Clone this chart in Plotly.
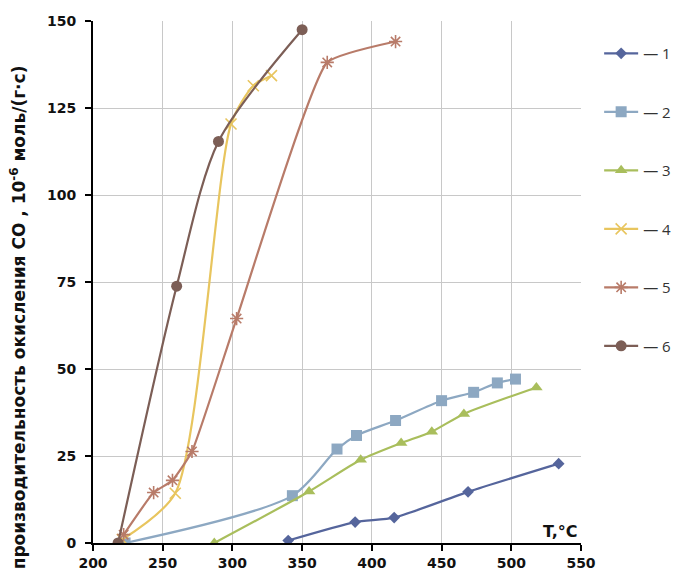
import plotly.graph_objects as go

# Data
t1 = [340, 388, 416, 469, 534]
v1 = [0.7, 6.0, 7.3, 14.7, 22.8]

t2 = [223, 343, 375, 389, 417, 450, 473, 490, 503]
v2 = [0, 13.6, 27.0, 30.9, 35.2, 40.9, 43.3, 46.0, 47.1]

t3 = [287, 355, 392, 421, 443, 466, 518]
v3 = [0, 14.8, 23.9, 28.7, 32.0, 37.1, 44.7]

t4 = [221, 259, 299, 315, 328]
v4 = [1.0, 14.3, 120.4, 131.4, 134.3]

t5 = [222, 243.5, 257, 271, 303, 368, 417]
v5 = [2.4, 14.5, 18.0, 26.3, 64.5, 138.1, 144.1]

t6 = [218, 260, 290, 350]
v6 = [0, 73.8, 115.4, 147.5]

names = ["— 1", "— 2", "— 3", "— 4", "— 5", "— 6"]
colors = ["#55659C", "#8DA8C2", "#A9BE5C", "#E8C55E", "#B87B69", "#7C5E56"]
symbols = ["diamond", "square", "triangle-up", "x-thin-open", "asterisk-open", "circle"]
sizes = [9, 11, 11, 11, 11, 11]
smooth = [0.6, 0.8, 0.6, 0.7, 0.4, 0.8]

series = [(t1, v1), (t2, v2), (t3, v3), (t4, v4), (t5, v5), (t6, v6)]

fig = go.Figure()
for i, (tx, vy) in enumerate(series):
    open_sym = symbols[i].endswith("open")
    fig.add_trace(go.Scatter(
        x=tx, y=vy, name=names[i], legendgroup=str(i),
        mode="lines+markers",
        line=dict(color=colors[i], width=2.2, shape="spline", smoothing=smooth[i]),
        marker=dict(symbol=symbols[i], size=sizes[i], color=colors[i],
                    line=dict(color=colors[i], width=1.6 if open_sym else 0)),
    ))

tickfont = dict(family="DejaVu Sans", size=14, weight="bold", color="#111")
fig.update_layout(
    width=677, height=571,
    margin=dict(l=93, r=96, t=21, b=28),
    plot_bgcolor="white", paper_bgcolor="white",
    font=dict(family="Open Sans", size=14, color="#222"),
    showlegend=True,
    legend=dict(xref="container", yref="container", x=0.885, xanchor="left",
                y=0.935, yanchor="top", maxheight=520,
                traceorder="grouped", tracegroupgap=36,
                font=dict(family="Open Sans", size=15, color="#333"), itemwidth=34,
                bgcolor="rgba(0,0,0,0)"),
    xaxis=dict(range=[200, 550], dtick=50, tick0=200, automargin=False,
               showgrid=True, gridcolor="#C8C8C8", gridwidth=1,
               showline=True, linecolor="black", linewidth=2,
               ticks="outside", ticklen=6, tickwidth=2, tickcolor="black",
               zeroline=False, tickfont=tickfont),
    yaxis=dict(range=[0, 150], dtick=25, tick0=0, automargin=False,
               showgrid=True, gridcolor="#C8C8C8", gridwidth=1,
               showline=True, linecolor="black", linewidth=2,
               ticks="outside", ticklen=6, tickwidth=2, tickcolor="black",
               ticklabelstandoff=6,
               zeroline=False, tickfont=tickfont),
)

fig.add_annotation(
    text="производительность окисления CO , 10<sup>-6</sup> моль/(г·с)",
    xref="paper", yref="paper", x=-0.152, y=0.432, xanchor="center", yanchor="middle",
    textangle=-90, showarrow=False,
    font=dict(family="DejaVu Sans", size=17, weight="bold", color="#111"),
)
fig.add_annotation(
    text="T,°C", xref="paper", yref="paper", x=1.0, y=0.0,
    xanchor="right", yanchor="bottom", yshift=0, xshift=-2, showarrow=False,
    font=dict(family="DejaVu Sans", size=16, weight="bold", color="#111"),
)

fig.write_html("out.html")
